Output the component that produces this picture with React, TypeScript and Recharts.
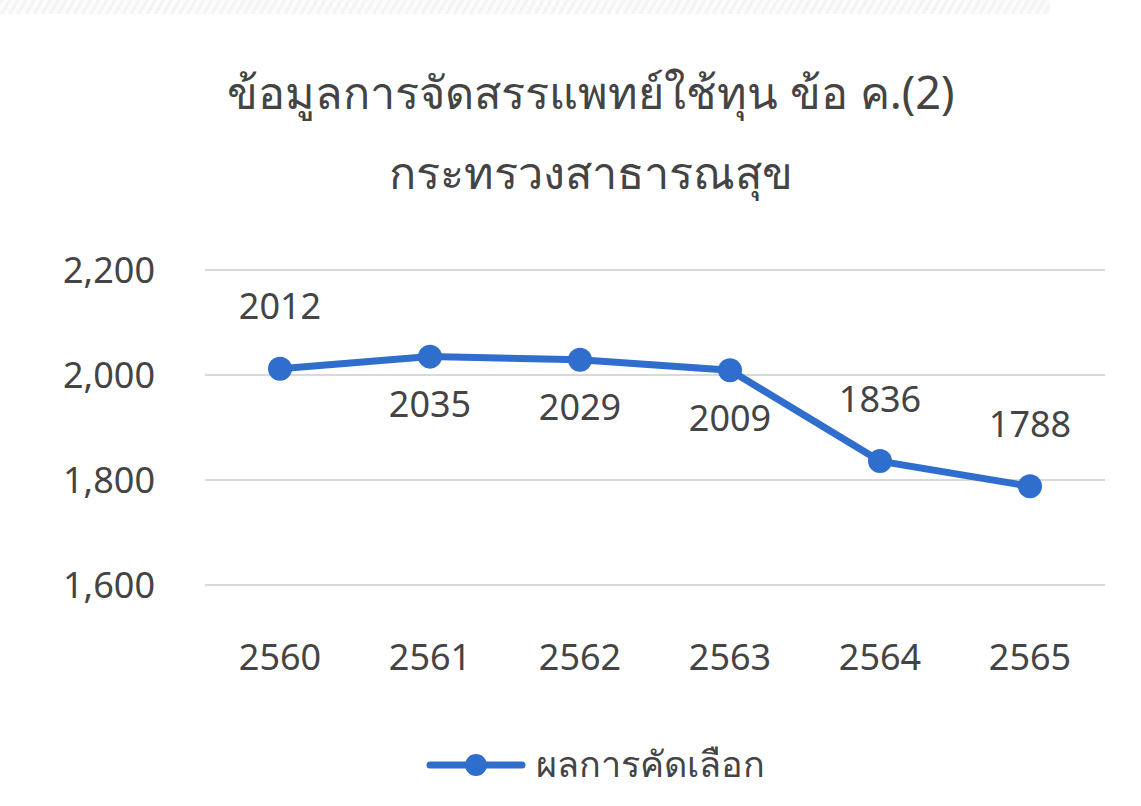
import { CartesianGrid, Line, LineChart, XAxis, YAxis } from "recharts";

const years = ["2560", "2561", "2562", "2563", "2564", "2565"];
const selected = [2012, 2035, 2029, 2009, 1836, 1788];
const yTicks = [1600, 1800, 2000, 2200];
const labelSide = ["top", "bottom", "bottom", "bottom", "top", "top"];

const seriesName = "ผลการคัดเลือก";
const titleLine1 = "ข้อมูลการจัดสรรแพทย์ใช้ทุน ข้อ ค.(2)";
const titleLine2 = "กระทรวงสาธารณสุข";

const data = years.map((year, i) => ({ year, value: selected[i] }));

const BLUE = "#2F6ECC";
const TEXT = "#444444";
const FONT = "'Noto Sans', 'DejaVu Sans', sans-serif";

const ValueLabel = (props: any) => {
	const { x, y, value, index } = props;
	const above = labelSide[index] === "top";
	return (
		<text
			x={x}
			y={above ? y - 63 : y + 47}
			textAnchor="middle"
			dominantBaseline="central"
			fontSize={36}
			fill={TEXT}
			fontFamily={FONT}
		>
			{value}
		</text>
	);
};

const App = () => {
	return (
		<div
			style={{
				position: "fixed",
				left: 0,
				top: 0,
				width: 1141,
				height: 806,
				background: "#fff",
				overflow: "hidden",
				fontFamily: FONT,
			}}
		>
			<div
				style={{
					position: "absolute",
					left: 0,
					top: 0,
					width: 1050,
					height: 14,
					background:
						"repeating-linear-gradient(120deg, #f4f4f4 0 3px, #fbfbfb 3px 7px)",
				}}
			/>
			<div
				style={{
					position: "absolute",
					left: 0,
					width: 1182,
					top: 52,
					textAlign: "center",
					color: TEXT,
					fontSize: 45,
					lineHeight: "80px",
				}}
			>
				<div>{titleLine1}</div>
				<div>{titleLine2}</div>
			</div>
			<div style={{ position: "absolute", left: 0, top: 0 }}>
				<LineChart
					width={1141}
					height={806}
					data={data}
					margin={{ top: 270, right: 36, bottom: 191, left: 0 }}
				>
					<CartesianGrid vertical={false} stroke="#d9d9d9" strokeWidth={2} />
					<XAxis
						dataKey="year"
						height={30}
						axisLine={false}
						tickLine={false}
						tickSize={0}
						tickMargin={59}
						padding={{ left: 75, right: 75 }}
						tick={{ fontSize: 36, fill: TEXT, fontFamily: FONT }}
						interval={0}
					/>
					<YAxis
						width={205}
						domain={[1600, 2200]}
						ticks={yTicks}
						axisLine={false}
						tickLine={false}
						tickSize={0}
						tickMargin={50}
						tickFormatter={(v: number) => v.toLocaleString("en-US")}
						tick={{ fontSize: 36, fill: TEXT, fontFamily: FONT }}
					/>
					<Line
						type="linear"
						dataKey="value"
						name={seriesName}
						stroke={BLUE}
						strokeWidth={7}
						dot={{ r: 12, fill: BLUE, stroke: BLUE, strokeWidth: 0 }}
						activeDot={false}
						label={<ValueLabel />}
						isAnimationActive={false}
					/>
				</LineChart>
			</div>
			<div
				style={{
					position: "absolute",
					left: 0,
					width: 1190,
					top: 736,
					display: "flex",
					alignItems: "center",
					justifyContent: "center",
					fontSize: 36,
					color: TEXT,
				}}
			>
				<svg width={100} height={30} style={{ marginRight: 10 }}>
					<line x1={4} y1={15} x2={96} y2={15} stroke={BLUE} strokeWidth={7} strokeLinecap="round" />
					<circle cx={50} cy={15} r={11} fill={BLUE} />
				</svg>
				<span>{seriesName}</span>
			</div>
		</div>
	);
};

export default App;
